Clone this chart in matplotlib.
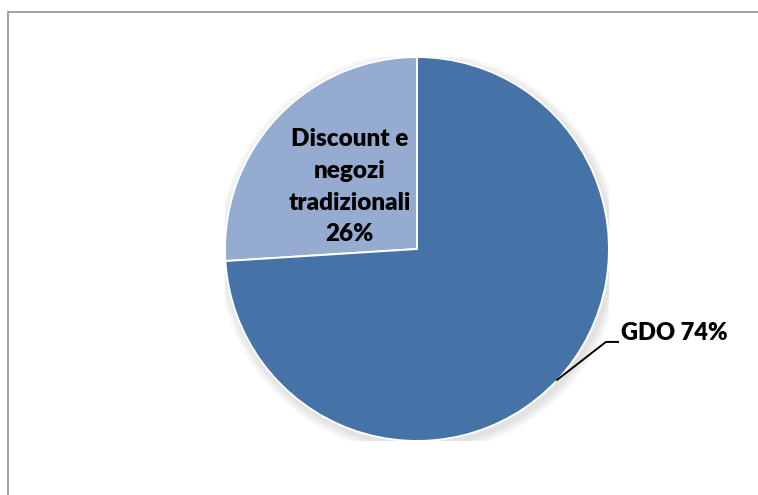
import matplotlib
matplotlib.use("Agg")
from matplotlib import pyplot as plt
from matplotlib.patches import Rectangle, Circle

labels = ["Discount e\nnegozi\ntradizionali", "GDO"]
shares = [26, 74]
colors = ["#95abcf", "#4572a7"]

plt.rcParams["font.family"] = ["Lato", "DejaVu Sans"]

fig = plt.figure(figsize=(7.58, 4.95), dpi=100)
W, H = 758, 495

# chart frame, cut at the right and bottom
fig.patches.append(Rectangle((7.5 / W, -0.1), 1.2, (H - 11.5) / H + 0.1,
                             transform=fig.transFigure, fill=False,
                             edgecolor="#9a9a9a", linewidth=1.3))

cx, cy, r = 417, 249, 192
ax = fig.add_axes([(cx - r) / W, (H - cy - r) / H, 2 * r / W, 2 * r / H])

# soft shadow under the pie
for i, a in enumerate([0.05, 0.05, 0.06, 0.07]):
    ax.add_patch(Circle((0.012, -0.018), 1.0 + 0.012 * (4 - i),
                        color="#808080", alpha=a, lw=0, zorder=0))

wedges, _ = ax.pie(shares, colors=colors, startangle=90, counterclock=True,
                   wedgeprops=dict(edgecolor="white", linewidth=1.4))
for w in wedges:
    w.set_zorder(2)

ax.set_xlim(-1, 1)
ax.set_ylim(-1, 1)
ax.set_aspect("equal")
ax.axis("off")

ax.text(-0.35, 0.325, "{}\n{}%".format(labels[0], shares[0]), ha="center",
        va="center", fontsize=17.5, fontweight="heavy", linespacing=1.55,
        zorder=5)

ax.plot([0.729, 0.984, 1.047], [-0.682, -0.484, -0.484], color="black",
        lw=1.4, clip_on=False, zorder=5)
ax.text(1.065, -0.44, "{} {}%".format(labels[1], shares[1]), ha="left",
        va="center", fontsize=17, fontweight="heavy", clip_on=False, zorder=5)

fig.savefig("out.png", dpi=100)
